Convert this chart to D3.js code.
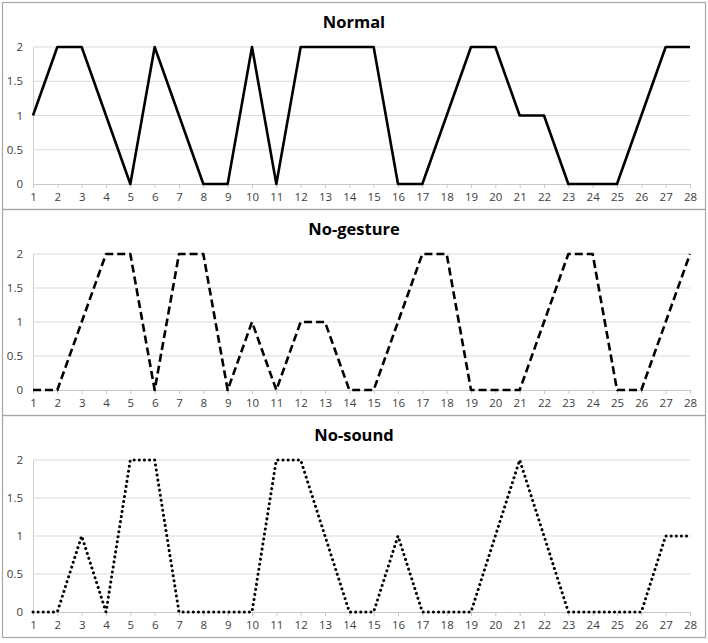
<!DOCTYPE html>
<html>
<head>
<meta charset="utf-8">
<script src="https://cdn.jsdelivr.net/npm/d3@7"></script>
<style>
  body { margin: 0; background: #fff; }
  .tick text { font-family: "Open Sans", "Noto Sans", sans-serif; font-size: 11.5px; fill: #404040; }
  .title { font-family: "Open Sans", "Noto Sans", sans-serif; font-size: 16.5px; font-weight: bold; fill: #000; }
</style>
</head>
<body>
<div id="chart"></div>
<script>
// data
var trials = d3.range(1, 29);
var normal    = [1,2,2,1,0,2,1,0,0,2,0,2,2,2,2,0,0,1,2,2,1,1,0,0,0,1,2,2];
var noGesture = [0,0,1,2,2,0,2,2,0,1,0,1,1,0,0,1,2,2,0,0,0,1,2,2,0,0,1,2];
var noSound   = [0,0,1,0,2,2,0,0,0,0,2,2,1,0,0,1,0,0,0,1,2,1,0,0,0,0,1,1];
var titles = ["Normal", "No-gesture", "No-sound"];
var yTicks = [0, 0.5, 1, 1.5, 2];

var series = [normal, noGesture, noSound];
var dashes = [null, "8,4", "0.1,5"];
var caps = ["butt", "butt", "round"];

// panel layout
var svgWidth = 708, svgHeight = 643;
var panels = [
  { top: 2,   bottom: 209 },
  { top: 209, bottom: 415 },
  { top: 415, bottom: 637 }
];
var margin = { top: 45, bottom: 25, left: 33, right: 18 };

var svg = d3.select("#chart").append("svg")
  .attr("width", svgWidth)
  .attr("height", svgHeight);

var x = d3.scaleLinear()
  .domain([1, 28])
  .range([margin.left, svgWidth - margin.right]);

panels.forEach(function(p, i) {
  var g = svg.append("g");

  // frame
  g.append("rect")
    .attr("x", 2.5).attr("y", p.top + 0.5)
    .attr("width", 703).attr("height", p.bottom - p.top)
    .attr("fill", "none")
    .attr("stroke", "#a6a6a6")
    .attr("stroke-width", 1.2);

  var y = d3.scaleLinear()
    .domain([0, 2])
    .range([p.bottom - margin.bottom, p.top + margin.top]);

  // gridlines
  g.selectAll(".grid")
    .data(yTicks.slice(1))
    .enter().append("line")
    .attr("x1", x(1)).attr("x2", x(28))
    .attr("y1", d => y(d)).attr("y2", d => y(d))
    .attr("stroke", "#d9d9d9")
    .attr("stroke-width", 1);

  // y axis
  var leftAxis = d3.axisLeft(y).tickValues(yTicks).tickSize(0).tickPadding(10)
    .tickFormat(d3.format("~g"));
  var ya = g.append("g")
    .attr("transform", `translate(${x(1)},0)`)
    .call(leftAxis);
  ya.select(".domain").attr("stroke", "#d0d0d0");

  // x axis
  var bottomAxis = d3.axisBottom(x).tickValues(trials).tickSize(4).tickSizeOuter(0).tickPadding(5);
  var xa = g.append("g")
    .attr("transform", `translate(0,${y(0)})`)
    .call(bottomAxis);
  xa.select(".domain").attr("stroke", "#c8c8c8");
  xa.selectAll(".tick line").attr("stroke", "#c8c8c8");

  // line
  var line = d3.line()
    .x((d, j) => x(trials[j]))
    .y(d => y(d));

  g.append("path")
    .datum(series[i])
    .attr("d", line)
    .attr("fill", "none")
    .attr("stroke", "#000")
    .attr("stroke-width", i == 2 ? 3 : 2.6)
    .attr("stroke-linejoin", "round")
    .attr("stroke-linecap", caps[i])
    .attr("stroke-dasharray", dashes[i]);

  // title
  g.append("text")
    .attr("class", "title")
    .attr("x", 354)
    .attr("y", p.top + 26)
    .attr("text-anchor", "middle")
    .text(titles[i]);
});
</script>
</body>
</html>
